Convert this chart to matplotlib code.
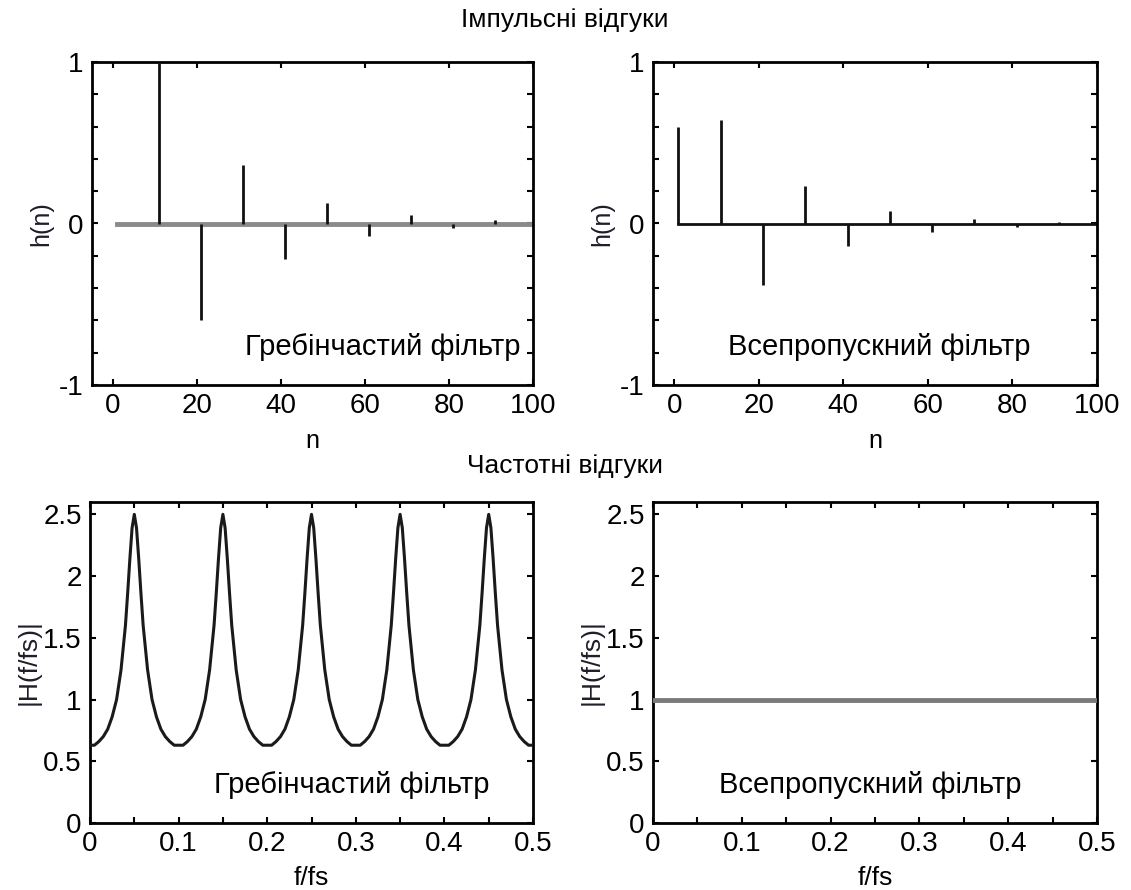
import numpy as np
import matplotlib
matplotlib.use("Agg")
from matplotlib import pyplot as plt
from matplotlib.ticker import MultipleLocator

plt.rcParams['font.family'] = ['Liberation Sans', 'DejaVu Sans']

# impulse responses: sample index and value of non-zero taps
comb_n = [11, 21, 31, 41, 51, 61, 71, 81, 91]
comb_h = [1.0, -0.6, 0.36, -0.22, 0.13, -0.08, 0.05, -0.03, 0.02]
allpass_n = [1, 11, 21, 31, 41, 51, 61, 71, 81, 91]
allpass_h = [0.6, 0.64, -0.38, 0.23, -0.14, 0.08, -0.05, 0.03, -0.02, 0.01]
n_first, n_last = 1, 100

# magnitude response of the comb filter
comb_f = [0.0, 0.005, 0.01, 0.015, 0.02, 0.025, 0.03, 0.035, 0.04, 0.0425, 0.045, 0.0475, 0.05,
          0.0525, 0.055, 0.0575, 0.06, 0.065, 0.07, 0.075, 0.08, 0.085, 0.09, 0.095,
          0.1, 0.105, 0.11, 0.115, 0.12, 0.125, 0.13, 0.135, 0.14, 0.1425, 0.145, 0.1475, 0.15,
          0.1525, 0.155, 0.1575, 0.16, 0.165, 0.17, 0.175, 0.18, 0.185, 0.19, 0.195,
          0.2, 0.205, 0.21, 0.215, 0.22, 0.225, 0.23, 0.235, 0.24, 0.2425, 0.245, 0.2475, 0.25,
          0.2525, 0.255, 0.2575, 0.26, 0.265, 0.27, 0.275, 0.28, 0.285, 0.29, 0.295,
          0.3, 0.305, 0.31, 0.315, 0.32, 0.325, 0.33, 0.335, 0.34, 0.3425, 0.345, 0.3475, 0.35,
          0.3525, 0.355, 0.3575, 0.36, 0.365, 0.37, 0.375, 0.38, 0.385, 0.39, 0.395,
          0.4, 0.405, 0.41, 0.415, 0.42, 0.425, 0.43, 0.435, 0.44, 0.4425, 0.445, 0.4475, 0.45,
          0.4525, 0.455, 0.4575, 0.46, 0.465, 0.47, 0.475, 0.48, 0.485, 0.49, 0.495, 0.5]
comb_mag = [0.63, 0.63, 0.66, 0.70, 0.76, 0.86, 1.00, 1.24, 1.60, 1.86, 2.14, 2.39, 2.50,
            2.39, 2.14, 1.86, 1.60, 1.24, 1.00, 0.86, 0.76, 0.70, 0.66, 0.63,
            0.63, 0.63, 0.66, 0.70, 0.76, 0.86, 1.00, 1.24, 1.60, 1.86, 2.14, 2.39, 2.50,
            2.39, 2.14, 1.86, 1.60, 1.24, 1.00, 0.86, 0.76, 0.70, 0.66, 0.63,
            0.63, 0.63, 0.66, 0.70, 0.76, 0.86, 1.00, 1.24, 1.60, 1.86, 2.14, 2.39, 2.50,
            2.39, 2.14, 1.86, 1.60, 1.24, 1.00, 0.86, 0.76, 0.70, 0.66, 0.63,
            0.63, 0.63, 0.66, 0.70, 0.76, 0.86, 1.00, 1.24, 1.60, 1.86, 2.14, 2.39, 2.50,
            2.39, 2.14, 1.86, 1.60, 1.24, 1.00, 0.86, 0.76, 0.70, 0.66, 0.63,
            0.63, 0.63, 0.66, 0.70, 0.76, 0.86, 1.00, 1.24, 1.60, 1.86, 2.14, 2.39, 2.50,
            2.39, 2.14, 1.86, 1.60, 1.24, 1.00, 0.86, 0.76, 0.70, 0.66, 0.63, 0.63]
allpass_f = [0.0, 0.5]
allpass_mag = [1.0, 1.0]

comb_name = "Гребінчастий фільтр"
allpass_name = "Всепропускний фільтр"

TICK_FS = 20
NOTE_FS = 21
TITLE_FS = 19
LABEL_COLOR = '#1e1e2a'


def style_axes(ax):
    ax.tick_params(direction='in', top=True, right=True, length=4, width=1.5,
                   labelsize=TICK_FS, pad=6)
    for sp in ax.spines.values():
        sp.set_linewidth(2)


def impulse_axes(ax, n, h, base_color, base_lw, name, note_x):
    ax.plot([n_first, n_last], [0, 0], color=base_color, lw=base_lw, zorder=2)
    ax.vlines(n, 0, h, color='#111111', lw=2, zorder=3)
    ax.set_xlim(-5, 100)
    ax.set_ylim(-1, 1)
    ax.xaxis.set_major_locator(MultipleLocator(20))
    ax.yaxis.set_major_locator(MultipleLocator(0.2))
    ax.yaxis.set_major_formatter(
        plt.FuncFormatter(lambda v, p: '%d' % round(v) if abs(v - round(v)) < 1e-6 else ''))
    ax.set_xlabel('n', fontsize=18, labelpad=7)
    ax.set_ylabel('h(n)', fontsize=18, color=LABEL_COLOR, labelpad=4)
    ax.text(note_x, 0.118, name, transform=ax.transAxes, fontsize=NOTE_FS,
            ha='center', va='center')
    style_axes(ax)


def freq_axes(ax, f, mag, color, lw, name, note_x):
    ax.plot(f, mag, color=color, lw=lw, zorder=3)
    ax.set_xlim(0, 0.5)
    ax.set_ylim(0, 2.6)
    ax.xaxis.set_major_locator(MultipleLocator(0.05))
    ax.xaxis.set_major_formatter(
        plt.FuncFormatter(lambda v, p: ('%g' % round(v, 2)) if abs(v * 10 - round(v * 10)) < 1e-6 else ''))
    ax.yaxis.set_major_locator(MultipleLocator(0.5))
    ax.yaxis.set_major_formatter(plt.FuncFormatter(lambda v, p: '%g' % v))
    ax.set_xlabel('f/fs', fontsize=19, labelpad=6)
    ax.set_ylabel('|H(f/fs)|', fontsize=19, color=LABEL_COLOR, labelpad=2)
    ax.text(note_x, 0.118, name, transform=ax.transAxes, fontsize=NOTE_FS,
            ha='center', va='center')
    style_axes(ax)


def main():
    W, H = 1131, 890
    fig = plt.figure(figsize=(W / 100, H / 100), dpi=100)

    def add(x0, x1, y0, y1):
        return fig.add_axes([x0 / W, 1 - y1 / H, (x1 - x0) / W, (y1 - y0) / H])

    ax1 = add(92, 533, 62, 385)
    ax2 = add(653, 1097, 62, 385)
    ax3 = add(90, 533, 502, 823)
    ax4 = add(653, 1097, 502, 823)

    impulse_axes(ax1, comb_n, comb_h, '#8a8a8a', 3.5, comb_name, 0.66)
    impulse_axes(ax2, allpass_n, allpass_h, '#111111', 2, allpass_name, 0.51)
    freq_axes(ax3, comb_f, comb_mag, '#1a1a1a', 2.2, comb_name, 0.59)
    freq_axes(ax4, allpass_f, allpass_mag, '#7a7a7a', 3.5, allpass_name, 0.49)

    fig.text(565 / W, 1 - 20 / H, "Імпульсні відгуки", fontsize=TITLE_FS,
             ha='center', va='center')
    fig.text(565 / W, 1 - 466 / H, "Частотні відгуки", fontsize=TITLE_FS,
             ha='center', va='center')

    fig.savefig('out.png', dpi=100)


if __name__ == '__main__':
    main()
